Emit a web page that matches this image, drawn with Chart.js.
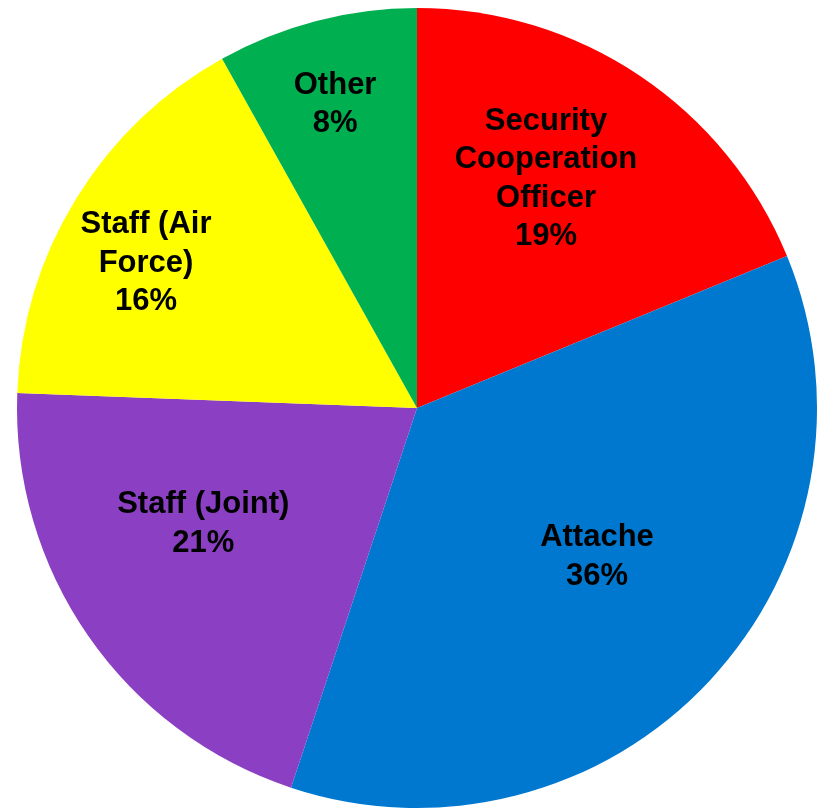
<!DOCTYPE html>
<html>
<head>
<meta charset="utf-8">
<script src="https://cdn.jsdelivr.net/npm/chart.js@4/dist/chart.umd.min.js"></script>
<style>
html,body{margin:0;padding:0;background:#fff;}
#wrap{width:817px;height:811px;position:relative;}
</style>
</head>
<body>
<div id="wrap"><canvas id="c" width="817" height="811"></canvas></div>
<script>
const categories = [
  ["Security", "Cooperation", "Officer"],
  ["Attache"],
  ["Staff (Joint)"],
  ["Staff (Air", "Force)"],
  ["Other"]
];
const values = [18.8, 36.3, 20.5, 16.3, 8.1];
const percentLabels = ["19%", "36%", "21%", "16%", "8%"];
const colors = ["#FF0000", "#0078D0", "#8B40C3", "#FFFF00", "#00B050"];

const labelPlugin = {
  id: 'sliceLabels',
  afterDatasetsDraw(chart, args, opts) {
    const ctx = chart.ctx;
    const meta = chart.getDatasetMeta(0);
    ctx.save();
    ctx.fillStyle = '#000';
    ctx.font = 'bold 31px "Liberation Sans", Arial, sans-serif';
    ctx.textAlign = 'center';
    ctx.textBaseline = 'middle';
    meta.data.forEach((arc, i) => {
      const p = opts.placement[i];
      const a = p.angle * Math.PI / 180;
      const r = arc.outerRadius * p.radius;
      const cx = arc.x + r * Math.sin(a);
      const cy = arc.y - r * Math.cos(a);
      const lines = categories[i].concat([percentLabels[i]]);
      const lh = opts.lineHeight;
      const top = cy - (lines.length - 1) * lh / 2;
      lines.forEach((t, k) => ctx.fillText(t, cx, top + k * lh));
    });
    ctx.restore();
  }
};

new Chart(document.getElementById('c'), {
  type: 'pie',
  data: {
    labels: categories,
    datasets: [{
      data: values,
      backgroundColor: colors,
      borderWidth: 0
    }]
  },
  options: {
    responsive: false,
    animation: false,
    layout: { padding: { left: 17, right: 0, top: 8, bottom: 3 } },
    plugins: {
      legend: { display: false },
      tooltip: { enabled: false },
      sliceLabels: {
        lineHeight: 38.5,
        placement: [
          { angle: 29.4, radius: 0.657 },
          { angle: 129.6, radius: 0.584 },
          { angle: 241.5, radius: 0.608 },
          { angle: 298.1, radius: 0.768 },
          { angle: 344.9, radius: 0.786 }
        ]
      }
    }
  },
  plugins: [labelPlugin]
});
</script>
</body>
</html>
